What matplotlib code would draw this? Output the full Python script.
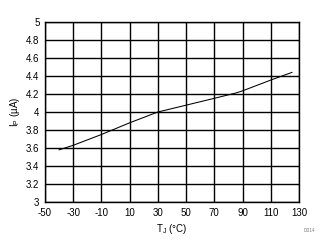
import matplotlib
matplotlib.use('Agg')
import matplotlib.pyplot as plt

# junction temperature (C) and Ip (uA)
temp = [-40, -30, -10, 10, 30, 50, 70, 85, 90, 110, 125]
ip = [3.58, 3.63, 3.75, 3.88, 4.0, 4.076, 4.152, 4.21, 4.235, 4.355, 4.44]

xticks = [-50, -30, -10, 10, 30, 50, 70, 90, 110, 130]
yticks = [3, 3.2, 3.4, 3.6, 3.8, 4, 4.2, 4.4, 4.6, 4.8, 5]

plt.rcParams['font.family'] = ['Liberation Sans', 'DejaVu Sans']
plt.rcParams['font.size'] = 7

fig = plt.figure(figsize=(3.28, 2.52), dpi=100)
ax = fig.add_axes([45 / 328, 50 / 252, 254 / 328, 180 / 252])

ax.plot(temp, ip, color='black', lw=0.75)

ax.set_xlim(-50, 130)
ax.set_ylim(3, 5)
ax.set_xticks(xticks)
ax.set_xticklabels([str(t) for t in xticks])
ax.set_yticks(yticks)
ax.set_yticklabels(['%g' % t for t in yticks])
ax.grid(True, color='black', lw=1)
ax.tick_params(length=0, pad=4)
for s in ax.spines.values():
    s.set_color('black')
    s.set_linewidth(1)

ax.set_xlabel('T$_\\mathregular{J}$ (°C)', labelpad=3)
ax.set_ylabel('I$_\\mathregular{P}$ (µA)', labelpad=3)

fig.text(310 / 328, 1 - 232 / 252, 'D014', fontsize=3.5, color='#808080', ha='center')

fig.savefig('out.png', dpi=100)
